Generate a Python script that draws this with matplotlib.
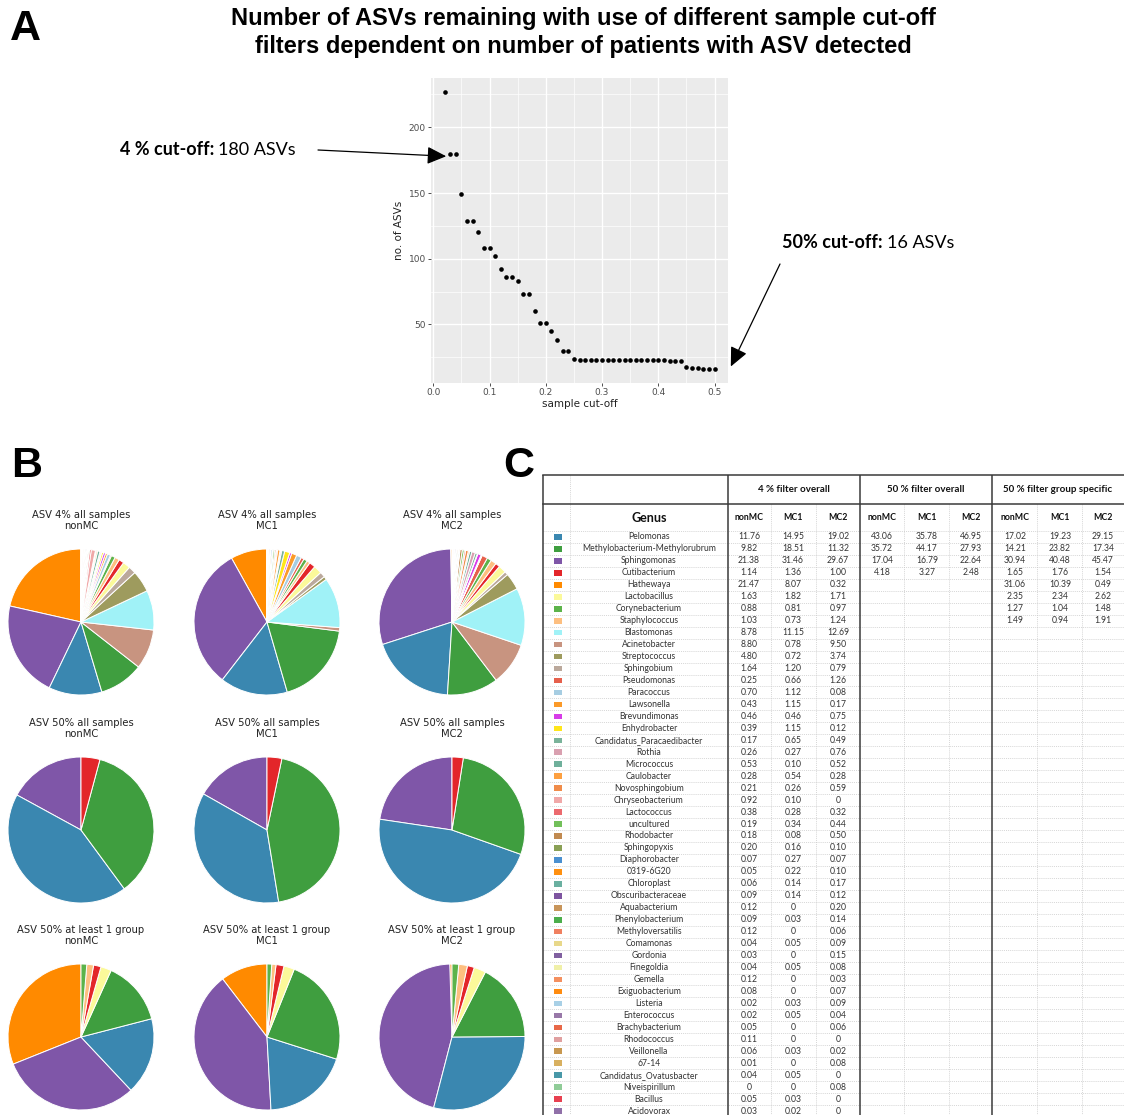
import matplotlib
matplotlib.use("Agg")
import matplotlib.pyplot as plt
from matplotlib.patches import Rectangle

# ---------------- data ----------------
cutoff = [0.02, 0.03, 0.04, 0.05, 0.06, 0.07, 0.08, 0.09, 0.10, 0.11, 0.12, 0.13,
          0.14, 0.15, 0.16, 0.17, 0.18, 0.19, 0.20, 0.21, 0.22, 0.23, 0.24, 0.25,
          0.26, 0.27, 0.28, 0.29, 0.30, 0.31, 0.32, 0.33, 0.34, 0.35, 0.36, 0.37,
          0.38, 0.39, 0.40, 0.41, 0.42, 0.43, 0.44, 0.45, 0.46, 0.47, 0.48, 0.49, 0.50]
n_asv = [227, 180, 180, 149, 129, 129, 120, 108, 108, 102, 92, 86,
         86, 83, 73, 73, 60, 51, 51, 45, 38, 30, 30, 24,
         23, 23, 23, 23, 23, 23, 23, 23, 23, 23, 23, 23,
         23, 23, 23, 23, 22, 22, 22, 18, 17, 17, 16, 16, 16]
x_ticks = [0.0, 0.1, 0.2, 0.3, 0.4, 0.5]
y_ticks = [50, 100, 150, 200]

genus = ["Pelomonas", "Methylobacterium-Methylorubrum", "Sphingomonas", "Cutibacterium",
         "Hathewaya", "Lactobacillus", "Corynebacterium", "Staphylococcus", "Blastomonas",
         "Acinetobacter", "Streptococcus", "Sphingobium", "Pseudomonas", "Paracoccus",
         "Lawsonella", "Brevundimonas", "Enhydrobacter", "Candidatus_Paracaedibacter",
         "Rothia", "Micrococcus", "Caulobacter", "Novosphingobium", "Chryseobacterium",
         "Lactococcus", "uncultured", "Rhodobacter", "Sphingopyxis", "Diaphorobacter",
         "0319-6G20", "Chloroplast", "Obscuribacteraceae", "Aquabacterium",
         "Phenylobacterium", "Methyloversatilis", "Comamonas", "Gordonia", "Finegoldia",
         "Gemella", "Exiguobacterium", "Listeria", "Enterococcus", "Brachybacterium",
         "Rhodococcus", "Veillonella", "67-14", "Candidatus_Ovatusbacter", "Niveispirillum",
         "Bacillus", "Acidovorax"]
genus_colors = ["#3a87b0", "#3f9e3f", "#7f56a8", "#e3262a", "#ff8a00", "#fbf99a", "#5cb34a",
                "#fdbf80", "#a0f2f7", "#c89480", "#9e9b5e", "#bba99c", "#e6604c", "#a6cde2",
                "#fb9a29", "#d73ce8", "#ffe61a", "#7ab39a", "#d9a0b0", "#6fb09b", "#fda040",
                "#f08c4a", "#f0a8a8", "#ec6a6e", "#72c05a", "#c18a50", "#8aa055", "#4a90d0",
                "#ff9010", "#6ab0a0", "#7e55a0", "#c8955a", "#4cae4c", "#f08060", "#e8d88a",
                "#8060a0", "#f0f0a8", "#f49060", "#ff8c10", "#a8d0e6", "#9878a8", "#e86848",
                "#e0a0a0", "#c89850", "#d8b060", "#4898a8", "#90cc98", "#e84050", "#9070a8"]

pct4_nonMC = [11.76, 9.82, 21.38, 1.14, 21.47, 1.63, 0.88, 1.03, 8.78, 8.80, 4.80, 1.64,
              0.25, 0.70, 0.43, 0.46, 0.39, 0.17, 0.26, 0.53, 0.28, 0.21, 0.92, 0.38, 0.19,
              0.18, 0.20, 0.07, 0.05, 0.06, 0.09, 0.12, 0.09, 0.12, 0.04, 0.03, 0.04, 0.12,
              0.08, 0.02, 0.02, 0.05, 0.11, 0.06, 0.01, 0.04, 0, 0.05, 0.03]
pct4_MC1 = [14.95, 18.51, 31.46, 1.36, 8.07, 1.82, 0.81, 0.73, 11.15, 0.78, 0.72, 1.20,
            0.66, 1.12, 1.15, 0.46, 1.15, 0.65, 0.27, 0.10, 0.54, 0.26, 0.10, 0.28, 0.34,
            0.08, 0.16, 0.27, 0.22, 0.14, 0.14, 0, 0.03, 0, 0.05, 0, 0.05, 0,
            0, 0.03, 0.05, 0, 0, 0.03, 0, 0.05, 0, 0.03, 0.02]
pct4_MC2 = [19.02, 11.32, 29.67, 1.00, 0.32, 1.71, 0.97, 1.24, 12.69, 9.50, 3.74, 0.79,
            1.26, 0.08, 0.17, 0.75, 0.12, 0.49, 0.76, 0.52, 0.28, 0.59, 0, 0.32, 0.44,
            0.50, 0.10, 0.07, 0.10, 0.17, 0.12, 0.20, 0.14, 0.06, 0.09, 0.15, 0.08, 0.03,
            0.07, 0.09, 0.04, 0.06, 0, 0.02, 0.08, 0, 0.08, 0, 0]
pct50_nonMC = [43.06, 35.72, 17.04, 4.18]
pct50_MC1 = [35.78, 44.17, 16.79, 3.27]
pct50_MC2 = [46.95, 27.93, 22.64, 2.48]
grp50_nonMC = [17.02, 14.21, 30.94, 1.65, 31.06, 2.35, 1.27, 1.49]
grp50_MC1 = [19.23, 23.82, 40.48, 1.76, 10.39, 2.34, 1.04, 0.94]
grp50_MC2 = [29.15, 17.34, 45.47, 1.54, 0.49, 2.62, 1.48, 1.91]

groups = ["nonMC", "MC1", "MC2"]
filters = ["4 % filter overall", "50 % filter overall", "50 % filter group specific"]
pie_rows = ["ASV 4% all samples", "ASV 50% all samples", "ASV 50% at least 1 group"]
pie_first = ["Hathewaya", "Sphingomonas", "Pelomonas", "Methylobacterium-Methylorubrum",
             "Acinetobacter", "Blastomonas", "Streptococcus", "Sphingobium", "Lactobacillus",
             "Cutibacterium", "Staphylococcus", "Corynebacterium"]

# ---------------- figure ----------------
W, H = 1124, 1115
fig = plt.figure(figsize=(W / 100, H / 100), dpi=100)
fig.patch.set_facecolor("white")


def px_axes(x0, y0, x1, y1):
    return fig.add_axes([x0 / W, 1 - y1 / H, (x1 - x0) / W, (y1 - y0) / H])


NARROW = ["Liberation Sans Narrow", "Liberation Sans", "DejaVu Sans"]
CAL = ["Lato", "DejaVu Sans"]

# panel letters
for lab, x, y in [("A", 10, 29), ("B", 11, 466), ("C", 503, 466)]:
    fig.text(x / W, 1 - y / H, lab, fontsize=31, fontweight="bold",
             family=["Liberation Sans", "DejaVu Sans"], ha="left", va="center")

# ---------------- panel A ----------------
fig.text(583 / W, 1 - 32.5 / H,
         "Number of ASVs remaining with use of different sample cut-off\n"
         "filters dependent on number of patients with ASV detected",
         fontsize=17, fontweight="bold", family=NARROW, ha="center", va="center",
         linespacing=1.23)

ax = px_axes(431, 78, 728, 383)
ax.set_facecolor("#EBEBEB")
ax.scatter(cutoff, n_asv, s=11, color="black", linewidths=0, zorder=3)
ax.set_xlim(-0.004, 0.524)
ax.set_ylim(5.45, 237.55)
ax.set_xticks(x_ticks)
ax.set_xticklabels([f"{v:.1f}" for v in x_ticks])
ax.set_yticks(y_ticks)
ax.set_xticks([0.05, 0.15, 0.25, 0.35, 0.45], minor=True)
ax.set_yticks([25, 75, 125, 175, 225], minor=True)
ax.grid(which="major", color="white", lw=1.0)
ax.grid(which="minor", color="white", lw=0.5)
ax.set_axisbelow(True)
for s in ax.spines.values():
    s.set_visible(False)
ax.tick_params(which="minor", length=0)
ax.tick_params(which="major", length=2.2, width=0.6, color="#333333",
               labelcolor="#4D4D4D", labelsize=6.5, pad=1.5)
ax.set_xlabel("sample cut-off", fontsize=7.5, color="#222222", labelpad=1)
ax.set_ylabel("no. of ASVs", fontsize=7.5, color="#222222", labelpad=3)

arrow_kw = dict(arrowstyle="-|>,head_length=1.3,head_width=0.6", color="black", lw=0.9,
                mutation_scale=9, shrinkA=0, shrinkB=0)
ax.annotate("", xy=(0.023, 178), xycoords="data",
            xytext=(318 / W, 1 - 150 / H), textcoords="figure fraction",
            arrowprops=arrow_kw, annotation_clip=False)
ax.annotate("", xy=(0.529, 18), xycoords="data",
            xytext=(780 / W, 1 - 264 / H), textcoords="figure fraction",
            arrowprops=arrow_kw, annotation_clip=False)

renderer = fig.canvas.get_renderer()


def two_part(x, y, bold, normal, size):
    t1 = fig.text(x / W, 1 - y / H, bold, fontsize=size, fontweight="bold",
                  family=CAL, ha="left", va="center")
    bb = t1.get_window_extent(renderer)
    fig.text((bb.x1 + 4) / W, 1 - y / H, normal, fontsize=size,
             family=CAL, ha="left", va="center")


two_part(120, 150, "4 % cut-off:", "180 ASVs", 13)
two_part(782, 243, "50% cut-off:", "16 ASVs", 13)

# ---------------- panel B ----------------
pie_data = [[pct4_nonMC, pct4_MC1, pct4_MC2],
            [pct50_nonMC, pct50_MC1, pct50_MC2],
            [grp50_nonMC, grp50_MC1, grp50_MC2]]
order = pie_first + [g for g in genus if g not in pie_first]
color_of = dict(zip(genus, genus_colors))
cx = [81, 267, 452]
cy = [622, 830, 1037]
R = 73
for r in range(3):
    for c in range(3):
        vals = dict(zip(genus, pie_data[r][c]))
        names = [g for g in order if vals.get(g, 0) > 0]
        pax = px_axes(cx[c] - R, cy[r] - R, cx[c] + R, cy[r] + R)
        pax.pie([vals[g] for g in names], colors=[color_of[g] for g in names],
                startangle=90, counterclock=True, radius=1,
                wedgeprops=dict(edgecolor="white", linewidth=0.7))
        pax.set_xlim(-1.0, 1.0)
        pax.set_ylim(-1.0, 1.0)
        pax.set_aspect("auto")
        pax.set_title(f"{pie_rows[r]}\n{groups[c]}", fontsize=7.2, color="#222222",
                      pad=14.5, linespacing=1.05)

# ---------------- panel C (table) ----------------
tx0, ty0, tx1, ty1 = 540, 470, 1124, 1115
tax = px_axes(tx0, ty0, tx1, ty1)
tax.set_xlim(tx0, tx1)
tax.set_ylim(ty1, ty0)
tax.axis("off")

left, right = 543, 1124
top, h1, h2 = 475, 504, 531
row_h = 11.96
sq_x, genus_x = 558, 649
col_centers = [749, 793, 838, 882, 927, 971, 1015, 1060, 1103]
thick_x = [543, 728, 860, 992]
thin_x = [771, 816, 904, 949, 1037, 1082]
grid_c = "#c8c8c8"
line_c = "#3a3a3a"

n_rows = len(genus)
for k in range(n_rows + 1):
    y = h2 + k * row_h
    tax.plot([left, right], [y, y], color=grid_c, lw=0.5, ls=(0, (1.5, 1.5)))
tax.plot([left, right], [top + 29 + 13, top + 29 + 13], color="white", lw=0)  # spacer
tax.plot([570, 570], [top, ty1], color=grid_c, lw=0.5, ls=(0, (1.5, 1.5)))
for x in thin_x:
    tax.plot([x, x], [h1, ty1], color=grid_c, lw=0.5, ls=(0, (1.5, 1.5)))
for x in thick_x:
    tax.plot([x, x], [top, ty1], color=line_c, lw=1.1, solid_capstyle="butt")
tax.plot([left, right], [top, top], color=line_c, lw=1.1)
tax.plot([left, right], [h1, h1], color=line_c, lw=1.1)

for i, f in enumerate(filters):
    tax.text((thick_x[i + 1] if i < 2 else 992) + 66, 489.5, f, fontsize=7, fontweight="bold",
             family=CAL, ha="center", va="center", color="#111111")
tax.text(genus_x, 517.5, "Genus", fontsize=9, fontweight="bold", family=CAL,
         ha="center", va="center", color="#111111")
for j, xc in enumerate(col_centers):
    tax.text(xc, 517.5, groups[j % 3], fontsize=6.3, fontweight="bold", family=CAL,
             ha="center", va="center", color="#111111")

cols = [pct4_nonMC, pct4_MC1, pct4_MC2,
        pct50_nonMC, pct50_MC1, pct50_MC2,
        grp50_nonMC, grp50_MC1, grp50_MC2]


def fmt(v):
    return "0" if v == 0 else f"{v:.2f}"


for i, g in enumerate(genus):
    yc = h2 + (i + 0.5) * row_h
    tax.add_patch(Rectangle((sq_x - 4, yc - 2.8), 8, 5.6, facecolor=genus_colors[i],
                            edgecolor="none"))
    tax.text(genus_x, yc, g, fontsize=6.2, family=CAL, ha="center", va="center",
             color="#333333")
    for j, col in enumerate(cols):
        if i < len(col):
            tax.text(col_centers[j], yc, fmt(col[i]), fontsize=6.2, family=CAL,
                     ha="center", va="center", color="#333333")

fig.savefig("out.png", dpi=100, facecolor="white")
